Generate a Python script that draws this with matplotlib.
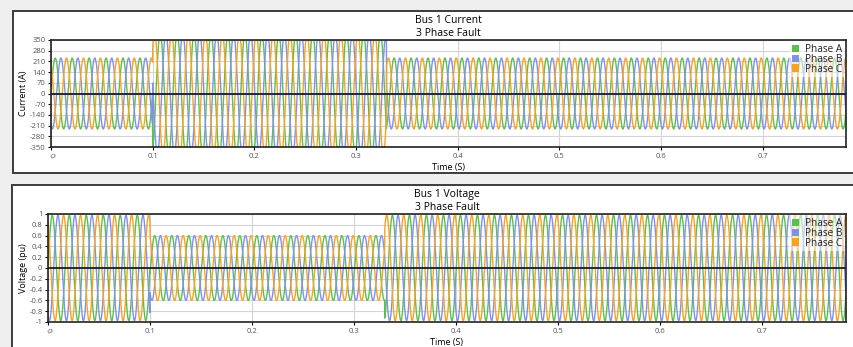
import numpy as np
import matplotlib.pyplot as plt
from matplotlib.patches import Rectangle, Patch

# ---------------------------------------------
# DATA
# ---------------------------------------------
FREQ_HZ       = 60.0
T_END         = 0.782
FAULT_START   = 0.100
FAULT_END     = 0.330

PHASES        = ["Phase A", "Phase B", "Phase C"]
PHASE_SHIFT   = [0.0, -120.0, 120.0]          # degrees
COLORS        = ["#5cbf4f", "#8191ea", "#f7a321"]

# peak amplitude per segment: pre-fault, fault, post-fault
CURRENT_PEAK  = [232.0, 395.0, 232.0]
CURRENT_ANGLE = [0.0, -70.0, 0.0]             # extra phase during fault
VOLTAGE_PEAK  = [0.975, 0.60, 0.975]
VOLTAGE_ANGLE = [0.0, -10.0, 0.0]

CURRENT_TICKS = [-350, -280, -210, -140, -70, 0, 70, 140, 210, 280, 350]
VOLTAGE_TICKS = [-1, -0.8, -0.6, -0.4, -0.2, 0, 0.2, 0.4, 0.6, 0.8, 1]
TIME_TICKS    = [0, 0.1, 0.2, 0.3, 0.4, 0.5, 0.6, 0.7]

t = np.arange(0, T_END, 0.0001)
seg = np.where(t < FAULT_START, 0, np.where(t < FAULT_END, 1, 2))


def waves(peaks, angles):
    amp = np.asarray(peaks)[seg]
    ang = np.radians(np.asarray(angles)[seg])
    return [amp * np.sin(2 * np.pi * FREQ_HZ * t + ang + np.radians(s))
            for s in PHASE_SHIFT]


W, H = 854, 347
fig = plt.figure(figsize=(W / 100, H / 100), dpi=100, facecolor="#efefef")
plt.rcParams["font.family"] = ["Open Sans", "DejaVu Sans"]

# panel frames
for (x0, y0, y1) in [(13, 11, 173), (12, 185, 360)]:
    fig.patches.append(Rectangle((x0 / W, 1 - y1 / H), (W + 20 - x0) / W,
                                 (y1 - y0) / H, transform=fig.transFigure,
                                 facecolor="white", edgecolor="#3c3c3c",
                                 lw=1.4, zorder=-5))


def panel(rect_px, title, ylabel, ticks, fmt, peaks, angles):
    l, tp, r, b = rect_px
    ax = fig.add_axes([l / W, 1 - b / H, (r - l) / W, (b - tp) / H])
    ax.patch.set_alpha(0)
    for y, c in zip(waves(peaks, angles), COLORS):
        ax.plot(t, y, color=c, lw=1.0)
    ax.axhline(0, color="#1a1a2e", lw=1.3, zorder=3)
    ax.set_xlim(0, T_END)
    ax.set_ylim(ticks[0], ticks[-1])
    ax.set_yticks(ticks)
    ax.set_yticklabels([fmt(v) for v in ticks])
    ax.set_xticks(TIME_TICKS)
    ax.set_xticklabels([f"{v:g}" for v in TIME_TICKS])
    ax.xaxis.get_ticklabels()[0].set_rotation(-60)
    ax.grid(color="#d4d4d4", lw=0.8)
    ax.set_axisbelow(True)
    ax.tick_params(labelsize=5.5, labelcolor="#555555", length=2.5,
                   width=0.8, pad=1.5)
    for s in ax.spines.values():
        s.set_color("#222222")
        s.set_linewidth(1.2)
    ax.set_ylabel(ylabel, fontsize=6.5, labelpad=1)
    ax.set_xlabel("Time (S)", fontsize=6.5, labelpad=2)
    ax.set_title(title + "\n3 Phase Fault", fontsize=7.5, linespacing=1.25,
                 pad=3)
    handles = [Patch(facecolor=c, edgecolor="none") for c in COLORS]
    leg = ax.legend(handles, PHASES, loc="upper right", fontsize=7.2,
                    handlelength=0.75, handleheight=0.75, labelspacing=-0.12,
                    borderpad=0.25, handletextpad=0.55, borderaxespad=0.15,
                    frameon=True, fancybox=False)
    leg.get_frame().set_alpha(0.55)
    leg.get_frame().set_linewidth(0)
    for txt in leg.get_texts():
        txt.set_color("#222222")
    return ax


panel((51, 40, 846, 147), "Bus 1 Current", "Current (A)", CURRENT_TICKS,
      lambda v: f"{v:d}", CURRENT_PEAK, CURRENT_ANGLE)
panel((48, 214, 846, 322), "Bus 1 Voltage", "Voltage (pu)", VOLTAGE_TICKS,
      lambda v: f"{round(v, 1):g}", VOLTAGE_PEAK, VOLTAGE_ANGLE)

fig.savefig("out.png", dpi=100, facecolor=fig.get_facecolor())
